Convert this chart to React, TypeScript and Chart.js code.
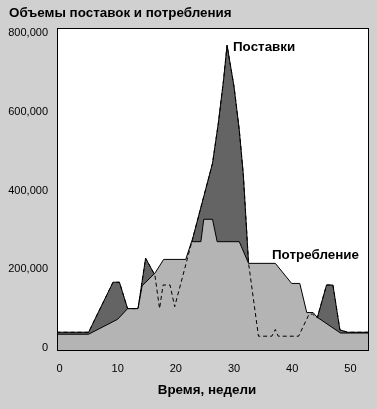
import React, { useEffect, useRef } from "react";
import { Chart, registerables } from "chart.js";

Chart.register(...registerables);

const titleText = "Объемы поставок и потребления";
const xAxisTitle = "Время, недели";
const supplyLabel = "Поставки";
const consumptionLabel = "Потребление";

const xTicks = [0, 10, 20, 30, 40, 50];
const yTicks = [0, 200000, 400000, 600000, 800000];

const supplyWeeks = [
  -0.5, 5, 9.2, 10.3, 11.7, 13.5, 14.8, 16.4, 17.2, 17.8, 19.0, 19.8, 26.3, 27.3,
  28.2, 28.8, 30.0, 30.9, 31.6, 32.5, 34.2, 36.5, 37.1, 37.6, 41.1, 42.9, 43.5,
  44.3, 45.9, 47.0, 48.2, 49.5, 53.5,
];
const supplyValues = [
  40000, 40000, 167000, 167000, 100000, 100000, 228000, 185000, 100000, 160000,
  160000, 105000, 469000, 571000, 681000, 769000, 664000, 554000, 440000, 215000,
  30000, 30000, 47000, 30000, 30000, 86000, 86000, 76000, 160000, 160000, 46000,
  40000, 40000,
];

const consumptionWeeks = [
  -0.5, 5, 10, 11.7, 13.5, 14.2, 16.4, 17.9, 21.7, 22.7, 24.3, 24.8, 26.3, 27.1,
  30.9, 32.5, 37.1, 39.9, 41.3, 42.5, 43.6, 44.3, 48.3, 53.5,
];
const consumptionValues = [
  35000, 35000, 73000, 100000, 100000, 158000, 190000, 225000, 225000, 270000,
  270000, 327000, 327000, 270000, 270000, 215000, 215000, 164000, 164000, 90000,
  90000, 78000, 38000, 38000,
];

const BG = "#d0d0d0";
const DARK = "#646464";
const LIGHT = "#b4b4b4";
const FONT = "'Liberation Sans', Arial, sans-serif";

const toPoints = (xs: number[], ys: number[]) => xs.map((x, i) => ({ x, y: ys[i] }));

const decor = {
  id: "decor",
  beforeDraw(chart: any) {
    const { ctx, chartArea: a, width, height } = chart;
    ctx.save();
    ctx.fillStyle = BG;
    ctx.fillRect(0, 0, width, height);
    ctx.fillStyle = "#ffffff";
    ctx.fillRect(a.left, a.top, a.right - a.left, a.bottom - a.top);
    ctx.restore();
  },
  afterDraw(chart: any) {
    const { ctx, chartArea: a } = chart;
    ctx.save();
    ctx.strokeStyle = "#000";
    ctx.lineWidth = 1;
    ctx.strokeRect(a.left + 0.5, a.top + 0.5, a.right - a.left - 1, a.bottom - a.top);
    ctx.fillStyle = "#000";
    ctx.textBaseline = "alphabetic";
    ctx.font = `bold 13.4px ${FONT}`;
    ctx.textAlign = "left";
    ctx.fillText(titleText, 9, 17);
    ctx.fillText(supplyLabel, 233, 51);
    ctx.fillText(consumptionLabel, 272, 259);
    ctx.textAlign = "center";
    ctx.fillText(xAxisTitle, 207, 394);
    ctx.restore();
  },
};

export default function App() {
  const ref = useRef<HTMLCanvasElement>(null);
  useEffect(() => {
    if (!ref.current) return;
    const chart = new Chart(ref.current, {
      type: "line",
      data: {
        datasets: [
          {
            label: "supply-dashed",
            data: toPoints(supplyWeeks, supplyValues),
            borderColor: "#000",
            borderWidth: 1,
            borderDash: [4, 3],
            fill: false,
            pointRadius: 0,
            tension: 0,
            order: 0,
          },
          {
            label: consumptionLabel,
            data: toPoints(consumptionWeeks, consumptionValues),
            borderColor: "#000",
            borderWidth: 1,
            backgroundColor: LIGHT,
            fill: "start",
            pointRadius: 0,
            tension: 0,
            order: 1,
          },
          {
            label: supplyLabel,
            data: toPoints(supplyWeeks, supplyValues),
            borderColor: "#000",
            borderWidth: 1,
            backgroundColor: DARK,
            fill: "start",
            pointRadius: 0,
            tension: 0,
            order: 2,
          },
        ],
      },
      options: {
        animation: false,
        responsive: false,
        devicePixelRatio: 1,
        layout: { padding: { top: 28, right: 8, bottom: 0, left: 0 } },
        plugins: {
          legend: { display: false },
          tooltip: { enabled: false },
          title: { display: false },
        },
        scales: {
          x: {
            type: "linear",
            min: -0.43,
            max: 53.2,
            grid: { display: false, drawTicks: true, tickLength: 8 },
            border: { display: false },
            afterBuildTicks: (s: any) => {
              s.ticks = xTicks.map((v) => ({ value: v }));
            },
            afterFit: (s: any) => {
              s.height = 59;
            },
            ticks: {
              color: "#000",
              font: { family: FONT, size: 11 },
              padding: 4,
              maxRotation: 0,
              autoSkip: false,
            },
          },
          y: {
            type: "linear",
            min: -5080,
            max: 812800,
            grid: { display: false, drawTicks: true, tickLength: 8 },
            border: { display: false },
            afterBuildTicks: (s: any) => {
              s.ticks = yTicks.map((v) => ({ value: v }));
            },
            afterFit: (s: any) => {
              s.width = 57;
            },
            ticks: {
              color: "#000",
              font: { family: FONT, size: 11 },
              padding: 1,
              callback: (v: any) => Number(v).toLocaleString("en-US"),
            },
          },
        },
      },
      plugins: [decor],
    });
    return () => chart.destroy();
  }, []);
  return (
    <div style={{ position: "fixed", left: 0, top: 0, width: 377, height: 409, background: BG }}>
      <canvas ref={ref} width={377} height={409} style={{ display: "block" }} />
    </div>
  );
}
